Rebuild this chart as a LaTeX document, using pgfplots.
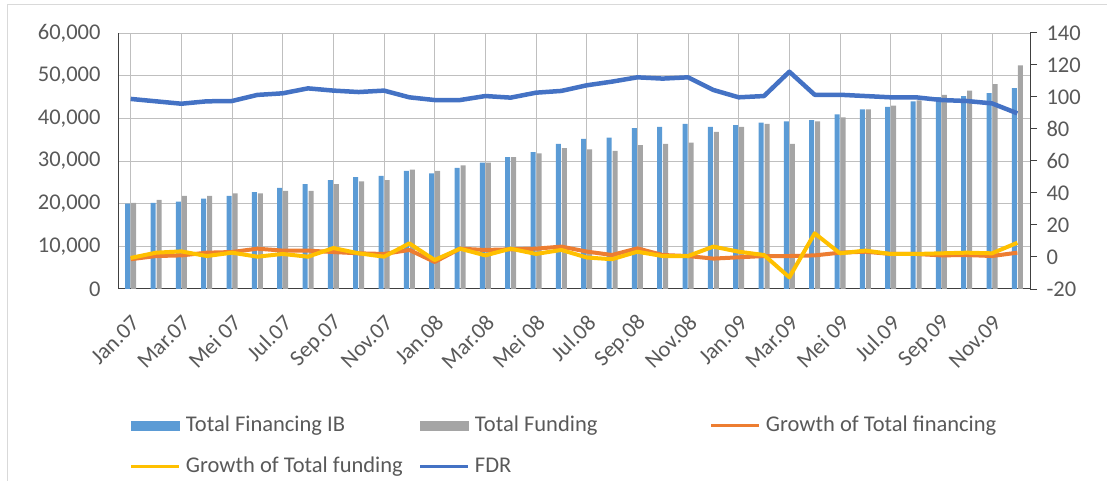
\documentclass[border=0pt]{standalone}
\usepackage{pgfplots}
\usepackage{pgfplotstable}
\pgfplotsset{compat=1.18}
\usepackage{fontspec}
\setmainfont{Carlito}
\definecolor{cBlue}{HTML}{5B9BD5}
\definecolor{cGray}{HTML}{A5A5A5}
\definecolor{cOrange}{HTML}{ED7D31}
\definecolor{cYellow}{HTML}{FFC000}
\definecolor{cFDR}{HTML}{4472C4}
\definecolor{txt}{HTML}{595959}
\definecolor{axl}{HTML}{404040}
\definecolor{grid}{HTML}{D9D9D9}

\pgfplotstableread{
idx fin fund gfin gfund fdr
0 20000 20200 -1.4 -0.6 98.8
1 20200 20900 0.6 2.7 97.3
2 20500 21800 1.0 3.5 95.8
3 21200 21800 2.7 0.6 97.3
4 21800 22400 3.1 2.7 97.5
5 22700 22400 5.2 0.2 101.3
6 23700 23000 4.0 1.9 102.3
7 24600 23000 4.0 0.2 105.4
8 25500 24600 3.1 5.6 104.0
9 26200 25200 2.3 2.3 103.1
10 26500 25500 1.9 0.2 104.0
11 27700 28000 4.4 8.5 99.8
12 27100 27700 -3.1 -1.9 98.1
13 28400 29000 5.2 5.2 98.1
14 29600 29600 4.4 1.0 100.6
15 30900 30900 4.8 5.2 99.6
16 32100 31800 5.2 1.9 102.7
17 34000 33000 6.5 4.4 103.8
18 35200 32700 3.4 -0.3 107.3
19 35500 32400 1.25 -1.4 109.6
20 37700 33700 5.4 3.3 112.3
21 38000 34000 1.25 0.6 111.5
22 38700 34300 0.6 0.6 112.3
23 38000 36800 -1.0 6.5 104.4
24 38400 38000 -0.2 3.3 99.8
25 39000 38700 0.6 1.25 100.6
26 39300 34000 0.6 -12.7 115.8
27 39600 39300 1.0 14.8 101.4
28 40900 40200 2.7 2.3 101.4
29 42100 42100 3.3 4.0 100.6
30 42700 43000 1.9 1.9 99.8
31 44000 44200 1.9 1.9 99.8
32 45000 45500 1.0 2.3 98.1
33 45200 46500 1.25 2.7 97.5
34 45900 48000 0.6 2.3 96.0
35 47100 52400 2.7 8.9 89.8
}\data

\pgfplotsset{
  common/.style={
    at={(118bp,192bp)}, anchor=south west, scale only axis,
    width=912bp, height=256bp, xmin=-0.5, xmax=35.5,
    tick label style={font=\fontsize{22.5bp}{26bp}\selectfont, text=txt},
    /pgf/number format/assume math mode=true,
    /pgf/number format/1000 sep={,},
  },
}

\begin{document}
\begin{tikzpicture}
\clip (0,0) rectangle (1107bp,481bp);
\draw[grid, line width=1bp] (7bp,476bp) rectangle (1140bp,-30bp);

\begin{axis}[common,
  ymin=0, ymax=60000, ytick={0,10000,...,60000},
  axis x line*=bottom, axis y line*=left,
  axis line style={-, axl, line width=1bp},
  major tick length=0pt,
  ymajorgrids, grid style={grid, line width=1bp},
  xtick={0,2,...,34},
  xticklabels={Jan.07,Mar.07,Mei 07,Jul.07,Sep.07,Nov.07,Jan.08,Mar.08,Mei 08,Jul.08,Sep.08,Nov.08,Jan.09,Mar.09,Mei 09,Jul.09,Sep.09,Nov.09},
  xticklabel style={xshift=-13bp, yshift=-6bp, rotate=45, anchor=east, xshift=-1bp, yshift=-30bp},
  yticklabel style={xshift=-14bp},
  scaled y ticks=false,
]
\addplot[ybar, bar width=5bp, bar shift=-3bp, fill=cBlue, draw=none] table[x=idx, y=fin] {\data};
\addplot[ybar, bar width=5bp, bar shift=3bp, fill=cGray, draw=none] table[x=idx, y=fund] {\data};
\end{axis}

\begin{axis}[common,
  ymin=-20, ymax=140, ytick={-20,0,...,140},
  axis x line=none, axis y line*=right,
  axis line style={-, axl, line width=1bp},
  tick align=outside, major tick length=7bp,
  tick style={axl, line width=1bp},
  yticklabel style={xshift=6bp},
  legend columns=3,
  legend cell align=left,
  legend style={draw=none, fill=none, at={(0.01316,-0.494)}, anchor=north west,
    inner sep=0pt, outer sep=0pt, row sep=20bp, column sep=0pt,
    font=\fontsize{22.5bp}{26bp}\selectfont, text=txt,
    nodes={inner sep=0pt, text height=16bp, text depth=5bp}},
]
\addlegendimage{legend image code/.code={\fill[cBlue] (0bp,-4.5bp) rectangle (48bp,4.5bp);}}
\addlegendentry{\makebox[238bp][l]{\hspace{5bp}Total Financing IB}}
\addlegendimage{legend image code/.code={\fill[cGray] (0bp,-4.5bp) rectangle (48bp,4.5bp);}}
\addlegendentry{\makebox[240bp][l]{\hspace{5bp}Total Funding}}
\addplot[cOrange, line width=4bp, line join=round, legend image code/.code={\draw[cOrange, line width=3bp] (0bp,0bp) -- (48bp,0bp);}] table[x=idx, y=gfin] {\data};
\addlegendentry{\hspace{5bp}Growth of Total financing}
\addplot[cYellow, line width=4bp, line join=round, legend image code/.code={\draw[cYellow, line width=3bp] (0bp,0bp) -- (48bp,0bp);}] table[x=idx, y=gfund] {\data};
\addlegendentry{\makebox[238bp][l]{\hspace{5bp}Growth of Total funding}}
\addplot[cFDR, line width=4.5bp, line join=round, legend image code/.code={\draw[cFDR, line width=3bp] (0bp,0bp) -- (48bp,0bp);}] table[x=idx, y=fdr] {\data};
\addlegendentry{\makebox[240bp][l]{\hspace{5bp}FDR}}
\end{axis}
\end{tikzpicture}
\end{document}
